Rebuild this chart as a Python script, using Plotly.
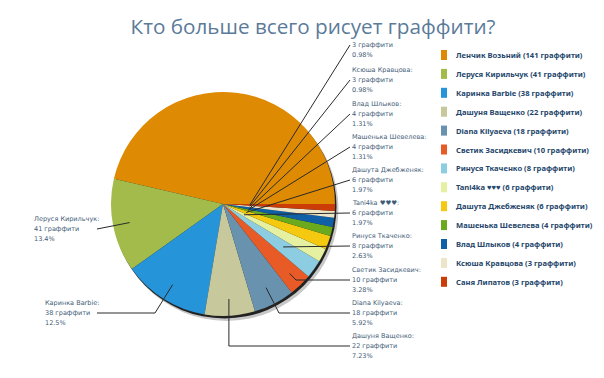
import math
import plotly.graph_objects as go

# ---------------- data ----------------
names = ["Ленчик Возьний", "Леруся Кирильчук", "Каринка Barbie", "Дашуня Ващенко",
         "Diana Kilyaeva", "Светик Засидкевич", "Ринуся Ткаченко", "Tani4ka ♥♥♥",
         "Дашута Джебженяк", "Машенька Шевелева", "Влад Шлыков", "Ксюша Кравцова",
         "Саня Липатов"]
counts = [141, 41, 38, 22, 18, 10, 8, 6, 6, 4, 4, 3, 3]
pct_labels = ["46.3%", "13.4%", "12.5%", "7.23%", "5.92%", "3.28%", "2.63%", "1.97%",
              "1.97%", "1.31%", "1.31%", "0.98%", "0.98%"]
colors = ["#de8a03", "#a2bb4a", "#2594d8", "#c7c89b", "#6892ae", "#e85b26", "#8dcde2",
          "#e5f1a0", "#f5c90f", "#6aaa1c", "#0f60a7", "#ede5c8", "#cb3c08"]
title = "Кто больше всего рисует граффити?"
unit = "граффити"

# ---------------- layout helpers (pixels) ----------------
W, H = 604, 378
CX, CY, R = 215, 196, 112


def px(x):
    return x / W


def py(y):
    return 1 - y / H


total = sum(counts)
# first slice starts at 3 o'clock and runs counterclockwise
rotation = 90 - counts[0] / total * 360.0

fig = go.Figure()

# shadow layers
for (dx, dy, col) in [(3.5, 5, "#c8c8c8"), (1.5, 2.5, "#222222")]:
    fig.add_trace(go.Pie(
        values=[1], labels=["s"], marker=dict(colors=[col], line=dict(width=0)),
        textinfo="none", hoverinfo="skip", sort=False, showlegend=False,
        domain=dict(x=[px(CX - R + dx), px(CX + R + dx)],
                    y=[py(CY + R + dy), py(CY - R + dy)])))

fig.add_trace(go.Pie(
    values=counts, labels=names, marker=dict(colors=colors, line=dict(width=0)),
    textinfo="none", sort=False, direction="counterclockwise", rotation=rotation,
    showlegend=False,
    domain=dict(x=[px(CX - R), px(CX + R)], y=[py(CY + R), py(CY - R)])))

# ---------------- labels with leader lines ----------------
# per slice: (anchor radius fraction, label side, label x, label mid y, elbow, show name)
label_cfg = {
    1: (0.85, "left", 88, 221, None, True),
    2: (0.85, "left", 88, 305, 147, True),
    3: (0.85, "right", 342, 338, "v", True),
    4: (0.84, "right", 342, 305, 271, True),
    5: (0.86, "right", 342, 272, 288, True),
    6: (0.66, "right", 342, 238, None, True),
    7: (0.21, "right", 342, 205, None, True),
    8: (0.22, "right", 342, 172, None, True),
    9: (0.23, "right", 342, 139, None, True),
    10: (0.24, "right", 342, 106, None, True),
    11: (0.24, "right", 342, 72, None, True),
    12: (0.24, "right", 342, 37, None, False),
}
cum = 0.0
mids = []
for c in counts:
    mids.append((cum + c / 2) / total * 360.0)
    cum += c

lab_font = dict(family="DejaVu Sans", size=6.5, color="#3f5d78")
line_col = "#2a2a2a"
LS = 9.8
for i, (fr, side, lx, ly, ex, show_name) in label_cfg.items():
    th = math.radians(mids[i])
    ax = CX + fr * R * math.cos(th)
    ay = CY - fr * R * math.sin(th)
    if side == "left":
        tx = lx + 1
        txt_x = 25 if i == 1 else 36
    else:
        tx = lx
        txt_x = lx + 1
    pts = [(ax, ay)]
    if ex == "v":
        pts.append((ax, ly))
    elif ex is not None:
        pts.append((ex, ly))
    pts.append((tx, ly))
    path = "M " + " L ".join(f"{px(x):.5f},{py(y):.5f}" for x, y in pts)
    fig.add_shape(type="path", path=path, xref="paper", yref="paper",
                  line=dict(color=line_col, width=1))
    rows = []
    if show_name:
        rows.append((names[i] + ":", ly - LS))
    rows.append((f"{counts[i]} {unit}", ly))
    rows.append((pct_labels[i], ly + LS))
    for t, y in rows:
        fig.add_annotation(text=t, x=px(txt_x), y=py(y), xref="paper", yref="paper",
                           xanchor="left", yanchor="middle", showarrow=False,
                           font=lab_font, borderpad=0)

# ---------------- custom legend ----------------
leg_y0, leg_dy = 47, 18.9
for i, (n, c, col) in enumerate(zip(names, counts, colors)):
    y = leg_y0 + i * leg_dy
    fig.add_shape(type="rect", xref="paper", yref="paper",
                  x0=px(433), x1=px(439), y0=py(y + 5), y1=py(y - 5),
                  fillcolor=col, line=dict(width=0))
    fig.add_annotation(text=f"<b>{n} ({c} {unit})</b>", x=px(447), y=py(y),
                       xref="paper", yref="paper", xanchor="left", yanchor="middle",
                       showarrow=False, borderpad=0,
                       font=dict(family="Noto Sans", size=7.6, color="#24466b"))

fig.update_layout(
    width=W, height=H, margin=dict(l=0, r=0, t=0, b=0),
    paper_bgcolor="white", plot_bgcolor="white",
    title=dict(text=title, x=0.505, xanchor="center", y=py(19), yanchor="middle",
               font=dict(family="Open Sans", size=20.7, color="#5b7b99")),
)

fig.write_html("out.html")
